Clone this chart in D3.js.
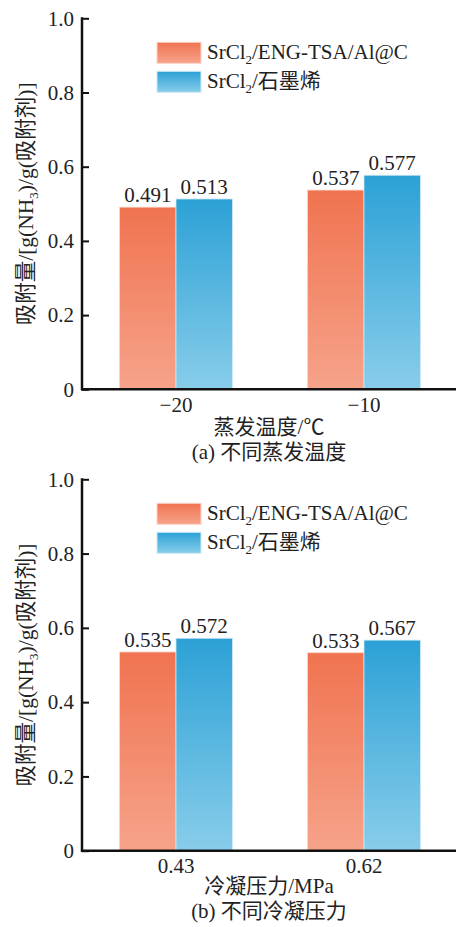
<!DOCTYPE html>
<html>
<head>
<meta charset="utf-8">
<script src="https://cdn.jsdelivr.net/npm/d3@7"></script>
<style>
  body { margin: 0; background: #fff; }
  text { font-family: "Liberation Serif", "Noto Sans CJK SC", serif; fill: #222; }
</style>
</head>
<body>
<script>
// data
var seriesNames = ['SrCl2/ENG-TSA/Al@C', 'SrCl2/石墨烯'];
var tempCats = ['\u221220', '\u221210'];
var tempEng = [0.491, 0.537];
var tempGraphene = [0.513, 0.577];
var pressCats = ['0.43', '0.62'];
var pressEng = [0.535, 0.533];
var pressGraphene = [0.572, 0.567];
var yTicks = [0, 0.2, 0.4, 0.6, 0.8, 1.0];

var width = 456, height = 927;
var svg = d3.select('body').append('svg').attr('width', width).attr('height', height);

var defs = svg.append('defs');
var addGrad = function(id, top, bottom) {
  var g = defs.append('linearGradient').attr('id', id)
    .attr('x1', 0).attr('y1', 0).attr('x2', 0).attr('y2', 1);
  g.append('stop').attr('offset', '0%').attr('stop-color', top);
  g.append('stop').attr('offset', '100%').attr('stop-color', bottom);
};
addGrad('gOrange', '#f07350', '#f6a38a');
addGrad('gBlue', '#2ca1d6', '#88cdea');
var fills = ['url(#gOrange)', 'url(#gBlue)'];
var edges = ['#fbd3c6', '#cde9f6'];

// label with subscript "2" after "SrCl"
var chemLabel = function(sel, name) {
  var rest = name.replace('SrCl2', '');
  sel.append('tspan').text('SrCl');
  sel.append('tspan').text('2').attr('font-size', 13).attr('dy', 5);
  sel.append('tspan').text(rest).attr('dy', -5);
};

var drawPanel = function(top, bottom, cats, a, b, xTitle, caption, offs) {
  var x0 = 82;
  var y = d3.scaleLinear().domain([0, 1]).range([bottom, top]);
  var x = d3.scaleBand().domain(cats).range([x0, 458]).paddingInner(0.4).paddingOuter(0.2);
  var xs = d3.scaleBand().domain([0, 1]).range([0, x.bandwidth()]);
  var g = svg.append('g');
  var midX = (x0 + width) / 2;

  var rows = cats.map(function(c, i) { return { cat: c, vals: [a[i], b[i]] }; });
  rows.forEach(function(r) {
    r.vals.forEach(function(v, k) {
      g.append('rect')
        .attr('x', x(r.cat) + xs(k)).attr('y', y(v))
        .attr('width', xs.bandwidth()).attr('height', y(0) - y(v))
        .attr('fill', fills[k]).attr('stroke', edges[k]).attr('stroke-width', 0.8);
      g.append('text')
        .attr('x', x(r.cat) + xs(k) + xs.bandwidth() / 2).attr('y', y(v) - 5)
        .attr('text-anchor', 'middle').attr('font-size', 21)
        .text(d3.format('.3f')(v));
    });
  });

  // y axis, ticks pointing inward
  var yAxis = g.append('g').attr('transform', 'translate(' + x0 + ',0)')
    .call(d3.axisRight(y).tickValues(yTicks).tickSize(7)
      .tickFormat(function(d) { return d === 0 ? '0' : d3.format('.1f')(d); }));
  yAxis.select('.domain').remove();
  yAxis.selectAll('.tick line').attr('stroke', '#111').attr('stroke-width', 2);
  yAxis.selectAll('.tick text').attr('x', -8).attr('text-anchor', 'end')
    .attr('font-size', 21).attr('font-family', '"Liberation Serif", serif').attr('fill', '#222');
  g.append('line').attr('x1', x0).attr('x2', x0).attr('y1', y(1) - 1).attr('y2', y(0) + 1)
    .attr('stroke', '#111').attr('stroke-width', 2.5);
  g.append('line').attr('x1', x0 - 1).attr('x2', width).attr('y1', y(0)).attr('y2', y(0))
    .attr('stroke', '#111').attr('stroke-width', 2.5);

  // category labels
  cats.forEach(function(c) {
    g.append('text').attr('x', x(c) + x.bandwidth() / 2).attr('y', y(0) + offs[0])
      .attr('text-anchor', 'middle').attr('font-size', 21).text(c);
  });
  g.append('text').attr('x', midX).attr('y', y(0) + offs[1])
    .attr('text-anchor', 'middle').attr('font-size', 21).text(xTitle);
  g.append('text').attr('x', midX).attr('y', y(0) + offs[2])
    .attr('text-anchor', 'middle').attr('font-size', 21).text(caption);

  // y title
  var yt = g.append('text')
    .attr('transform', 'translate(33,' + (top + bottom) / 2 + ') rotate(-90)')
    .attr('text-anchor', 'middle').attr('font-size', 21.5);
  yt.append('tspan').text('吸附量/[g(NH');
  yt.append('tspan').text('3').attr('font-size', 13).attr('dy', 5);
  yt.append('tspan').text(')/g(吸附剂)]').attr('dy', -5);

  // legend
  seriesNames.forEach(function(n, k) {
    var ly = top + 24 + k * 29;
    g.append('rect').attr('x', 157).attr('y', ly).attr('width', 44).attr('height', 21)
      .attr('fill', fills[k]).attr('stroke', edges[k]).attr('stroke-width', 1);
    var t = g.append('text').attr('x', 207).attr('y', ly + 17).attr('font-size', 21);
    chemLabel(t, n);
  });
};

drawPanel(18.3, 389.3, tempCats, tempEng, tempGraphene, '蒸发温度/℃', '(a) 不同蒸发温度', [23, 45, 70]);
drawPanel(479.3, 850.7, pressCats, pressEng, pressGraphene, '冷凝压力/MPa', '(b) 不同冷凝压力', [22, 42, 67]);
</script>
</body>
</html>
